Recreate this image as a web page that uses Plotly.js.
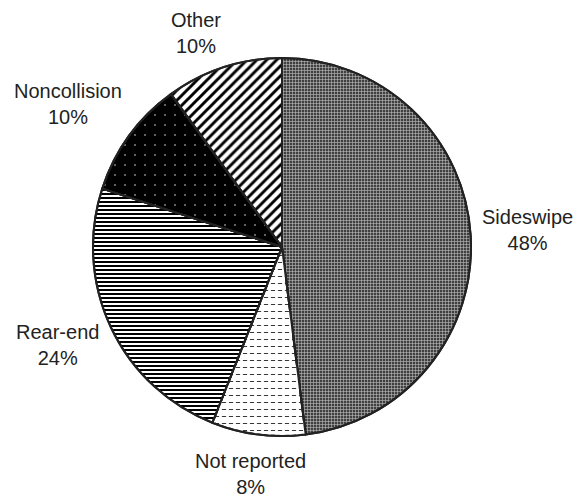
<!DOCTYPE html>
<html>
<head>
<meta charset="utf-8">
<script src="https://cdn.plot.ly/plotly-3.0.1.min.js"></script>
<style>
  html, body { margin: 0; padding: 0; background: #fff; }
  #chart { width: 579px; height: 497px; }
</style>
</head>
<body>
<div id="chart"></div>
<script>
// Crash types, listed clockwise from 12 o'clock
const categories = ['Sideswipe', 'Not reported', 'Rear-end', 'Noncollision', 'Other'];
const shares = [48, 8, 24, 10, 10];

// Black-and-white fill patterns for each slice
const patternShapes = ['+', '-', '-', '.', '/'];
const patternFg = ['#bdbdbd', '#333333', '#000000', '#dddddd', '#000000'];
const patternBg = ['#404040', '#ffffff', '#ffffff', '#000000', '#ffffff'];
const patternSize = [3, 7, 4, 10, 7];
const patternSolidity = [0.35, 0.14, 0.5, 0.02, 0.42];

// White vertical gaps laid over the thin lines to turn them into dashes
const dashBreakShapes = ['', '|', '', '', ''];

// Label block centres in pixels (outside the pie), one per category
const labelCentres = [[527, 230], [250, 474], [57, 345], [68, 104], [196, 33]];

const W = 579, H = 497;
const font = { family: 'Liberation Sans, Arial, sans-serif', size: 20, color: '#222' };
const pieDomain = { x: [0.1606, 0.8135], y: [0.1227, 0.8833] };

const trace = {
  type: 'pie',
  labels: categories,
  values: shares,
  sort: false,
  direction: 'clockwise',
  rotation: 0,
  textinfo: 'none',
  hoverinfo: 'label+percent',
  automargin: false,
  domain: pieDomain,
  marker: {
    colors: patternBg,
    line: { color: '#222', width: 2 },
    pattern: {
      shape: patternShapes,
      fgcolor: patternFg,
      bgcolor: patternBg,
      size: patternSize,
      solidity: patternSolidity,
      fillmode: 'replace'
    }
  }
};

const dashOverlay = {
  type: 'pie',
  labels: categories,
  values: shares,
  sort: false,
  direction: 'clockwise',
  rotation: 0,
  textinfo: 'none',
  hoverinfo: 'skip',
  automargin: false,
  domain: pieDomain,
  marker: {
    colors: categories.map(() => 'rgba(255,255,255,0)'),
    line: { color: '#222', width: 2 },
    pattern: {
      shape: dashBreakShapes,
      fgcolor: '#ffffff',
      bgcolor: 'rgba(255,255,255,0)',
      size: 7,
      solidity: 0.4,
      fillmode: 'replace'
    }
  }
};

const annotations = categories.map((name, i) => ({
  text: name + '<br>' + shares[i] + '%',
  xref: 'paper', yref: 'paper',
  x: labelCentres[i][0] / W,
  y: 1 - labelCentres[i][1] / H,
  xanchor: 'center', yanchor: 'middle',
  align: 'center',
  showarrow: false,
  font: font
}));

const layout = {
  width: W,
  height: H,
  margin: { l: 0, r: 0, t: 0, b: 0 },
  showlegend: false,
  paper_bgcolor: '#fff',
  font: font,
  annotations: annotations
};

Plotly.newPlot('chart', [trace, dashOverlay], layout, { displayModeBar: false, staticPlot: true });
</script>
</body>
</html>
